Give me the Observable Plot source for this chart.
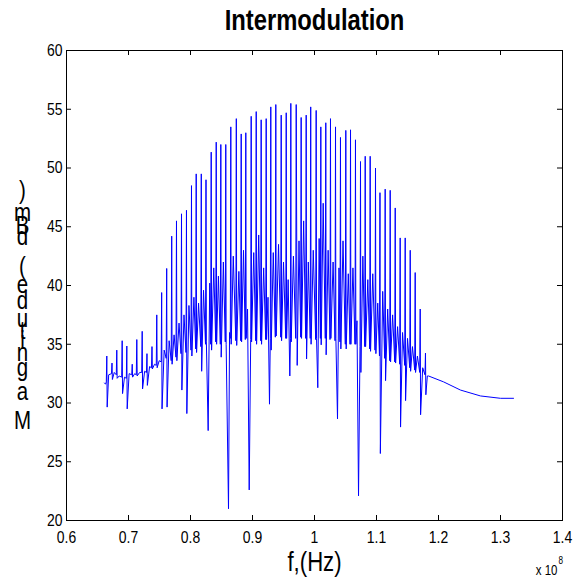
<!DOCTYPE html>
<html><head><meta charset="utf-8">
<script src="https://cdn.jsdelivr.net/npm/d3@7"></script>
<script src="https://cdn.jsdelivr.net/npm/@observablehq/plot@0.6"></script>
<style>body{margin:0;background:#fff}</style>
</head><body><div id="chart"></div>
<script>
// Frequency in MHz (axis shows value / 100, i.e. x 10^8 Hz), level in dBm
const leftTrace = [
[66.13,31.7],[66.3,31.6],
[66.42,31.8],[66.50,34.0],[66.56,29.65],[66.8,32.4],
[67.26,32.5],[67.34,33.4],[67.40,32.0],[67.7,32.6],
[68.03,32.4],[68.11,34.5],[68.17,32.1],[68.5,32.3],
[68.90,32.2],[68.98,35.3],[69.04,30.8],[69.35,32.2],
[69.65,32.1],[69.73,34.85],[69.79,29.5],[70.1,32.5],
[70.52,32.4],[70.60,33.3],[70.66,32.2],[71.0,32.5],
[71.26,32.4],[71.34,35.4],[71.40,32.3],[71.8,32.6],
[72.13,32.6],[72.21,36.1],[72.27,31.2],[72.6,32.7],
[72.90,32.6],[72.98,34.2],[73.04,31.5],[73.4,33.1],
[73.71,33.0],[73.79,34.8],[73.85,32.9],[74.2,33.3],
[74.48,33.2],[74.56,37.5],[74.62,33.0],[74.95,33.6],
[75.27,33.5],[75.35,39.4],[75.41,29.5],[75.75,34.5],
[76.08,33.8],[76.16,41.45],[76.22,29.65],[76.55,35.3],
[76.89,33.6],[76.97,44.2],[77.03,33.3],[77.35,35.8],
[77.66,33.9],[77.74,45.5],[77.80,33.6],[78.15,36.8],
[78.47,34.2],[78.55,46.1],[78.61,31.1],[78.95,37.5],
[79.27,34.3],[79.35,46.4],[79.41,29.1],[79.75,38.3],
[80.08,34.5],[80.16,48.5],[80.22,34.0],[80.55,39.0],
[80.84,34.6],[80.92,49.5],[80.98,34.3],[81.3,38.5],
[81.66,34.8],[81.74,49.5],[81.80,32.7],[82.1,39.6]
];
const centerTrace = [
[82.42,35.0],[82.50,49.0],[82.56,35.2],[82.85,27.65],[83.1,40.2],
[83.26,35.0],[83.34,51.35],[83.40,34.5],[83.75,41.5],
[84.07,35.2],[84.15,52.2],[84.21,35.0],[84.5,40.8],
[84.81,35.0],[84.89,52.0],[84.95,33.9],[85.3,42.0],
[85.61,35.2],[85.69,52.0],[85.75,35.0],[86.13,21.0],[86.3,36.0],
[86.42,35.5],[86.50,53.5],[86.56,35.0],[86.9,42.5],
[87.31,35.3],[87.39,54.2],[87.45,34.9],[87.8,41.2],
[88.10,35.3],[88.18,52.9],[88.24,35.2],[88.55,43.0],
[88.84,35.4],[88.92,53.0],[88.98,35.5],[89.2,38.0],[89.47,22.6],
[89.71,35.4],[89.79,54.4],[89.85,35.2],[90.2,42.8],
[90.52,35.3],[90.60,54.8],[90.66,35.0],[91.0,44.3],
[91.32,35.3],[91.40,54.1],[91.46,35.0],[91.8,41.5],
[92.13,35.4],[92.21,54.2],[92.27,35.4],[92.5,39.0],[92.74,29.9],
[92.87,35.5],[92.95,55.2],[93.01,34.5],[93.35,42.8],
[93.68,35.6],[93.76,55.4],[93.82,35.7],[94.2,43.5],
[94.55,35.6],[94.63,54.5],[94.69,35.3],[95.0,42.0],
[95.36,35.5],[95.44,54.7],[95.50,35.5],[95.75,40.5],[96.02,32.3],
[96.12,35.5],[96.18,55.5],[96.24,35.2],[96.6,42.5],
[96.97,35.5],[97.05,55.4],[97.21,33.2],[97.5,43.8],
[97.77,35.6],[97.85,54.3],[97.91,35.5],[98.25,45.5],
[98.58,35.5],[98.66,54.5],[98.72,33.75],[99.0,42.0],
[99.31,35.5],[99.39,55.2],[99.45,35.0],[99.8,43.0],
[100.19,35.4],[100.27,54.9],[100.33,35.5],[100.53,31.3],[100.75,44.0],
[100.95,35.5],[101.02,53.5],[101.08,34.95],[101.4,47.0],
[101.74,35.5],[101.82,53.85],[101.88,34.1],[102.2,43.0],
[102.50,35.4],[102.58,54.2],[102.64,35.5],[103.0,42.0],
[103.31,35.3],[103.39,53.5],[103.45,35.5],[103.71,28.65],[103.95,41.5]
];
const rightTrace = [
[104.11,35.2],[104.19,52.6],[104.25,34.6],[104.6,43.8],
[104.97,35.0],[105.05,53.2],[105.11,34.6],[105.45,41.0],
[105.73,35.0],[105.81,53.25],[105.87,35.0],[106.2,41.5],
[106.53,35.0],[106.61,52.4],[106.67,35.0],[106.85,37.0],[107.1,22.1],
[107.34,34.8],[107.42,50.55],[107.48,32.6],[107.8,42.5],
[108.10,34.8],[108.18,51.0],[108.24,34.8],[108.6,40.5],
[108.90,34.6],[108.98,51.0],[109.04,34.4],[109.4,41.0],
[109.76,34.5],[109.84,50.0],[109.90,34.2],[110.2,38.5],
[110.48,34.0],[110.56,47.9],[110.62,25.7],[111.0,39.5],
[111.32,33.8],[111.40,48.2],[111.46,31.9],[111.8,38.0],
[112.13,33.6],[112.21,48.1],[112.27,33.5],[112.6,37.5],
[112.94,33.5],[113.02,46.6],[113.08,33.4],[113.4,36.5],
[113.74,33.3],[113.82,44.05],[113.88,27.95],[114.2,36.0],
[114.55,33.2],[114.63,44.05],[114.69,30.2],[115.0,35.5],
[115.36,33.0],[115.44,43.0],[115.50,32.7],[115.8,34.8],
[116.16,32.8],[116.24,41.1],[116.30,32.6],[116.6,34.0],
[116.97,32.6],[117.05,38.0],[117.11,29.0],[117.45,33.0],
[117.82,32.4],[117.90,34.25],[117.96,30.7],[118.2,32.3]
];
const tailTrace = [
[118.39,32.3],[120.81,31.8],[123.55,31.1],[126.77,30.6],[130.0,30.4],[132.1,30.4]
];

const xTicks = [60, 70, 80, 90, 100, 110, 120, 130, 140];
const xTickLabels = ["0.6","0.7","0.8","0.9","1","1.1","1.2","1.3","1.4"];
const yTicks = [20, 25, 30, 35, 40, 45, 50, 55, 60];
const titleText = "Intermodulation";
const xLabelText = "f,(Hz)";
const xExponentBase = "x 10";
const xExponent = "8";
const yLabelChars = Array.from("Magnitude (dBm)");
const yLabelCenters = [420, 391, 367, 352, 340, 330, 318, 300, 284, 0, 266, 236, 225, 212, 190];

const data = [...leftTrace, ...centerTrace, ...rightTrace, ...tailTrace].map(([f, db]) => ({f, db}));

const W = 579, H = 584, ML = 66, MR = 17, MT = 50, MB = 64;
const FW = W - ML - MR, FH = H - MT - MB;
const FONT = '"Liberation Sans Narrow", "Arial Narrow", "Liberation Sans", Arial, sans-serif';

const yLabelMarks = yLabelChars
  .map((c, i) => c === " " ? null : Plot.text([c], {
    text: d => d, frameAnchor: "top-left", dx: -44, dy: yLabelCenters[i] - MT,
    fontSize: 25, lineAnchor: "middle", textAnchor: "middle", fill: "black"
  }))
  .filter(m => m);

const chart = Plot.plot({
  width: W, height: H,
  marginLeft: ML, marginRight: MR, marginTop: MT, marginBottom: MB,
  style: {fontFamily: FONT, background: "white", color: "black"},
  x: {domain: [60, 140], label: null},
  y: {domain: [20, 60], label: null},
  marks: [
    Plot.line(data, {x: "f", y: "db", stroke: "#0000ff", strokeWidth: 1}),
    Plot.tickX(xTicks, {x: d => d, insetTop: FH - 5, stroke: "black"}),
    Plot.tickX(xTicks, {x: d => d, insetBottom: FH - 5, stroke: "black"}),
    Plot.tickY(yTicks, {y: d => d, insetRight: FW - 5, stroke: "black"}),
    Plot.tickY(yTicks, {y: d => d, insetLeft: FW - 5, stroke: "black"}),
    Plot.frame({stroke: "black", strokeWidth: 1}),
    Plot.axisX(xTicks, {tickSize: 0, tickPadding: 10, fontSize: 17, label: null,
      tickFormat: d => xTickLabels[xTicks.indexOf(d)]}),
    Plot.axisY(yTicks, {tickSize: 0, tickPadding: 4, fontSize: 17, label: null}),
    Plot.text([titleText], {text: d => d, frameAnchor: "top", dy: -30, fontSize: 29,
      fontWeight: "bold", lineAnchor: "middle", fill: "black"}),
    Plot.text([xLabelText], {text: d => d, frameAnchor: "bottom", dy: 42, fontSize: 27,
      lineAnchor: "middle", fill: "black"}),
    Plot.text([xExponentBase], {text: d => d, frameAnchor: "bottom-right", dx: -5, dy: 50,
      fontSize: 14, textAnchor: "end", lineAnchor: "middle", fill: "black"}),
    Plot.text([xExponent], {text: d => d, frameAnchor: "bottom-right", dx: -4, dy: 40,
      fontSize: 10, textAnchor: "start", lineAnchor: "middle", fill: "black"}),
    ...yLabelMarks
  ]
});
document.getElementById("chart").appendChild(chart);

// The reference uses a condensed face; compress glyphs horizontally to match.
const NARROW = 0.82;
chart.querySelectorAll("text").forEach(t => {
  const len = t.getComputedTextLength();
  if (len > 0) {
    t.setAttribute("textLength", (len * NARROW).toFixed(2));
    t.setAttribute("lengthAdjust", "spacingAndGlyphs");
  }
});
</script>
</body></html>
